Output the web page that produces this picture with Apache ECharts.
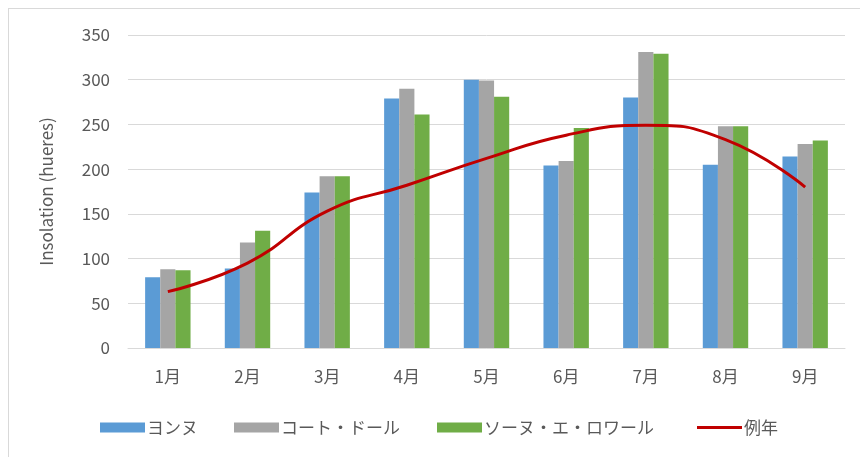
<!DOCTYPE html>
<html>
<head>
<meta charset="utf-8">
<script src="https://cdn.jsdelivr.net/npm/echarts@6/dist/echarts.min.js"></script>
<style>
  html, body { margin: 0; padding: 0; background: #fff; }
  #frame { position: absolute; left: 8px; top: 8px; width: 870px; height: 470px; border: 1px solid #d9d9d9; }
  #chart { position: absolute; left: 0; top: 0; width: 860px; height: 457px; }
</style>
</head>
<body>
<div id="frame"></div>
<div id="chart"></div>
<script>
// 月
const months = ['1月', '2月', '3月', '4月', '5月', '6月', '7月', '8月', '9月'];
// 地域ごとの日照時間
const yonne = [79, 89, 174, 279, 300, 204, 280, 205, 214];
const coteDor = [88, 118, 192, 290, 299, 209, 331, 248, 228];
const saoneEtLoire = [87, 131, 192, 261, 281, 246, 329, 248, 232];
// 例年
const normal = [63, 95, 153, 182, 212, 238, 249, 233, 180];
const yTicks = { min: 0, max: 350, interval: 50 };

const font = '"Noto Sans CJK JP", "Noto Sans", sans-serif';
const chart = echarts.init(document.getElementById('chart'));

function legendAt(name, left, icon, h) {
  return {
    data: [{ name: name, icon: icon || 'rect' }],
    left: left,
    top: 419,
    padding: 0,
    itemWidth: 45,
    itemHeight: h || 10,
    textStyle: { color: '#595959', fontSize: 17, fontFamily: font, padding: [0, 0, 0, -3] }
  };
}

const option = {
  animation: false,
  textStyle: { fontFamily: font },
  legend: [
    legendAt('ヨンヌ', 100),
    legendAt('コート・ドール', 234),
    legendAt('ソーヌ・エ・ロワール', 437),
    legendAt('例年', 697, 'rect', 3)
  ],
  grid: { left: 128, right: 15, top: 35, bottom: 109 },
  xAxis: {
    type: 'category',
    data: months,
    axisLine: { lineStyle: { color: '#d9d9d9' } },
    axisTick: { show: false },
    axisLabel: { color: '#595959', fontSize: 17, margin: 20, fontFamily: font }
  },
  yAxis: {
    type: 'value',
    min: yTicks.min,
    max: yTicks.max,
    interval: yTicks.interval,
    name: 'Insolation (hueres)',
    nameLocation: 'middle',
    nameGap: 73,
    nameTextStyle: { color: '#595959', fontSize: 17, fontFamily: font },
    axisLine: { show: false },
    axisTick: { show: false },
    axisLabel: { color: '#595959', fontSize: 17, margin: 18, fontFamily: font },
    splitLine: { lineStyle: { color: '#d9d9d9' } }
  },
  series: [
    { name: 'ヨンヌ', type: 'bar', data: yonne, itemStyle: { color: '#5b9bd5' }, barGap: '0%', barCategoryGap: '43%' },
    { name: 'コート・ドール', type: 'bar', data: coteDor, itemStyle: { color: '#a5a5a5' } },
    { name: 'ソーヌ・エ・ロワール', type: 'bar', data: saoneEtLoire, itemStyle: { color: '#70ad47' } },
    {
      name: '例年', type: 'line', data: normal, smooth: true, symbol: 'none',
      lineStyle: { color: '#c00000', width: 3 }, itemStyle: { color: '#c00000' }
    }
  ]
};

chart.setOption(option);
</script>
</body>
</html>
